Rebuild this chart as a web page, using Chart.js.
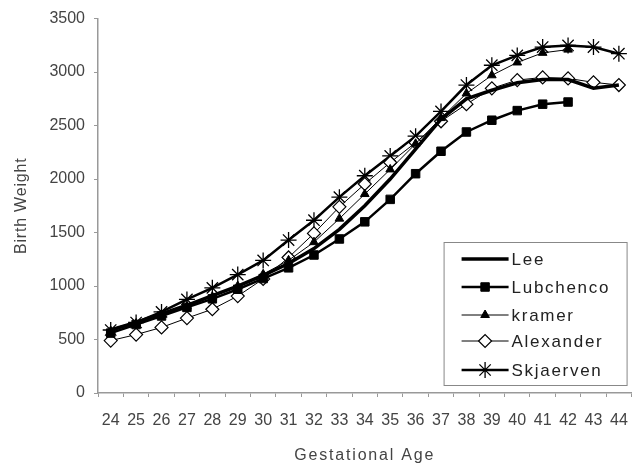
<!DOCTYPE html>
<html>
<head>
<meta charset="utf-8">
<script src="https://cdn.jsdelivr.net/npm/chart.js@4.4.1/dist/chart.umd.min.js"></script>
<style>
  html, body { margin: 0; padding: 0; background: #fff; }
  #wrap { width: 642px; height: 469px; }
</style>
</head>
<body>
<div id="wrap"><canvas id="c" width="642" height="469"></canvas></div>
<script>
const categories = ['24','25','26','27','28','29','30','31','32','33','34','35','36','37','38','39','40','41','42','43','44'];
const yTicks = [0, 500, 1000, 1500, 2000, 2500, 3000, 3500];
const seriesNames = ['Lee', 'Lubchenco', 'kramer', 'Alexander', 'Skjaerven'];
const xTitle = 'Gestational Age';
const yTitle = 'Birth Weight';
const lee        = [590, 660, 740, 820, 910, 1000, 1100, 1210, 1350, 1530, 1750, 2000, 2280, 2560, 2750, 2830, 2900, 2930, 2930, 2850, 2880];
const lubchenco  = [560, 640, 720, 800, 880, 970, 1070, 1170, 1290, 1440, 1600, 1810, 2050, 2260, 2440, 2550, 2640, 2700, 2720, null, null];
const kramer     = [580, 650, 730, 810, 900, 1000, 1110, 1240, 1410, 1630, 1860, 2090, 2330, 2570, 2800, 2970, 3090, 3180, 3210, null, null];
const alexander  = [490, 546, 613, 700, 783, 906, 1066, 1267, 1492, 1740, 1954, 2155, 2340, 2540, 2700, 2848, 2925, 2950, 2941, 2904, 2879];
const skjaerven  = [589, 659, 758, 875, 983, 1107, 1239, 1430, 1615, 1831, 2031, 2216, 2401, 2632, 2879, 3064, 3156, 3234, 3249, 3234, 3172];

const FONT = "'Liberation Sans', Arial, sans-serif";
const TEXT = '#444';
const AXIS = '#999';

function drawMarker(ctx, style, r, x, y) {
  Chart.helpers.drawPoint(ctx, { pointStyle: style, radius: r, borderWidth: ctx.lineWidth, rotation: 0 }, x, y);
}

const legendBox = {
  id: 'legendBox',
  afterDatasetsDraw(chart) {
    const ctx = chart.ctx;
    const ca = chart.chartArea;
    const w = 183, h = 143;
    const x0 = ca.right - 5 - w, y0 = ca.bottom - 8 - h;
    ctx.save();
    ctx.fillStyle = '#fff';
    ctx.fillRect(x0, y0, w, h);
    ctx.strokeStyle = '#888';
    ctx.lineWidth = 1;
    ctx.strokeRect(x0 + 0.5, y0 + 0.5, w, h);
    const rowY = [17, 45, 73, 99, 128];
    chart.data.datasets.forEach((ds, i) => {
      const y = y0 + rowY[i];
      const lx = x0 + 18, rx = x0 + 65;
      ctx.strokeStyle = ds.borderColor;
      ctx.lineWidth = ds.borderWidth;
      ctx.beginPath();
      ctx.moveTo(lx, y);
      ctx.lineTo(rx, y);
      ctx.stroke();
      if (ds.pointStyle && ds.pointRadius > 0) {
        ctx.save();
        ctx.fillStyle = ds.pointBackgroundColor;
        ctx.strokeStyle = ds.pointBorderColor;
        ctx.lineWidth = ds.pointBorderWidth;
        drawMarker(ctx, ds.pointStyle, ds.pointRadius, (lx + rx) / 2, y);
        ctx.restore();
      }
      ctx.fillStyle = '#222';
      ctx.font = '17px ' + FONT;
      try { ctx.letterSpacing = '1.7px'; } catch (e) {}
      ctx.textBaseline = 'middle';
      ctx.textAlign = 'left';
      ctx.fillText(ds.label, rx + 3, y + 1);
      try { ctx.letterSpacing = '0px'; } catch (e) {}
    });
    ctx.restore();
  }
};

const axisTitles = {
  id: 'axisTitles',
  afterDraw(chart) {
    const ctx = chart.ctx;
    const ca = chart.chartArea;
    ctx.save();
    ctx.fillStyle = TEXT;
    ctx.font = '16px ' + FONT;
    try { ctx.letterSpacing = '1.8px'; } catch (e) {}
    ctx.textAlign = 'center';
    ctx.textBaseline = 'middle';
    ctx.fillText(xTitle, (ca.left + ca.right) / 2, chart.height - 13);
    try { ctx.letterSpacing = '0.8px'; } catch (e) {}
    ctx.translate(22, (ca.top + ca.bottom) / 2);
    ctx.rotate(-Math.PI / 2);
    ctx.fillText(yTitle, 0, 0);
    ctx.restore();
  }
};

const mk = (label, data, bw, style, radius, bg, pbw) => ({
  label, data,
  borderColor: '#000',
  borderWidth: bw,
  backgroundColor: bg,
  pointStyle: style,
  pointRadius: radius,
  pointHoverRadius: radius,
  pointBackgroundColor: bg,
  pointBorderColor: '#000',
  pointBorderWidth: pbw,
  tension: 0,
  spanGaps: false,
  fill: false
});

new Chart(document.getElementById('c'), {
  type: 'line',
  data: {
    labels: categories,
    datasets: [
      mk(seriesNames[0], lee, 3.5, false, 0, '#000', 0),
      mk(seriesNames[1], lubchenco, 2.5, 'rect', 6, '#000', 1),
      mk(seriesNames[2], kramer, 1, 'triangle', 5, '#000', 1),
      mk(seriesNames[3], alexander, 1, 'rectRot', 6.5, '#fff', 1.2),
      mk(seriesNames[4], skjaerven, 2.5, 'star', 8, '#000', 1.3)
    ]
  },
  options: {
    responsive: false,
    animation: false,
    devicePixelRatio: 1,
    layout: { padding: { left: 0, right: 9, top: 14, bottom: 0 } },
    plugins: { legend: { display: false }, tooltip: { enabled: false } },
    scales: {
      x: {
        offset: true,
        grid: { offset: true, drawOnChartArea: false, drawTicks: true, tickLength: 4, color: AXIS, lineWidth: 1 },
        border: { display: true, color: AXIS, width: 1.5 },
        ticks: { color: TEXT, font: { family: FONT, size: 16 }, padding: 14, maxRotation: 0, autoSkip: false },
        afterFit(s) { s.height = 76; }
      },
      y: {
        min: 0, max: 3500,
        afterBuildTicks(s) { s.ticks = yTicks.map(v => ({ value: v })); },
        grid: { drawOnChartArea: false, drawTicks: true, tickLength: 4, color: AXIS, lineWidth: 1 },
        border: { display: true, color: AXIS, width: 1.5 },
        ticks: { color: TEXT, font: { family: FONT, size: 16 }, padding: 9, callback: v => String(v) },
        afterFit(s) { s.width = 98; }
      }
    }
  },
  plugins: [legendBox, axisTitles]
});
</script>
</body>
</html>
